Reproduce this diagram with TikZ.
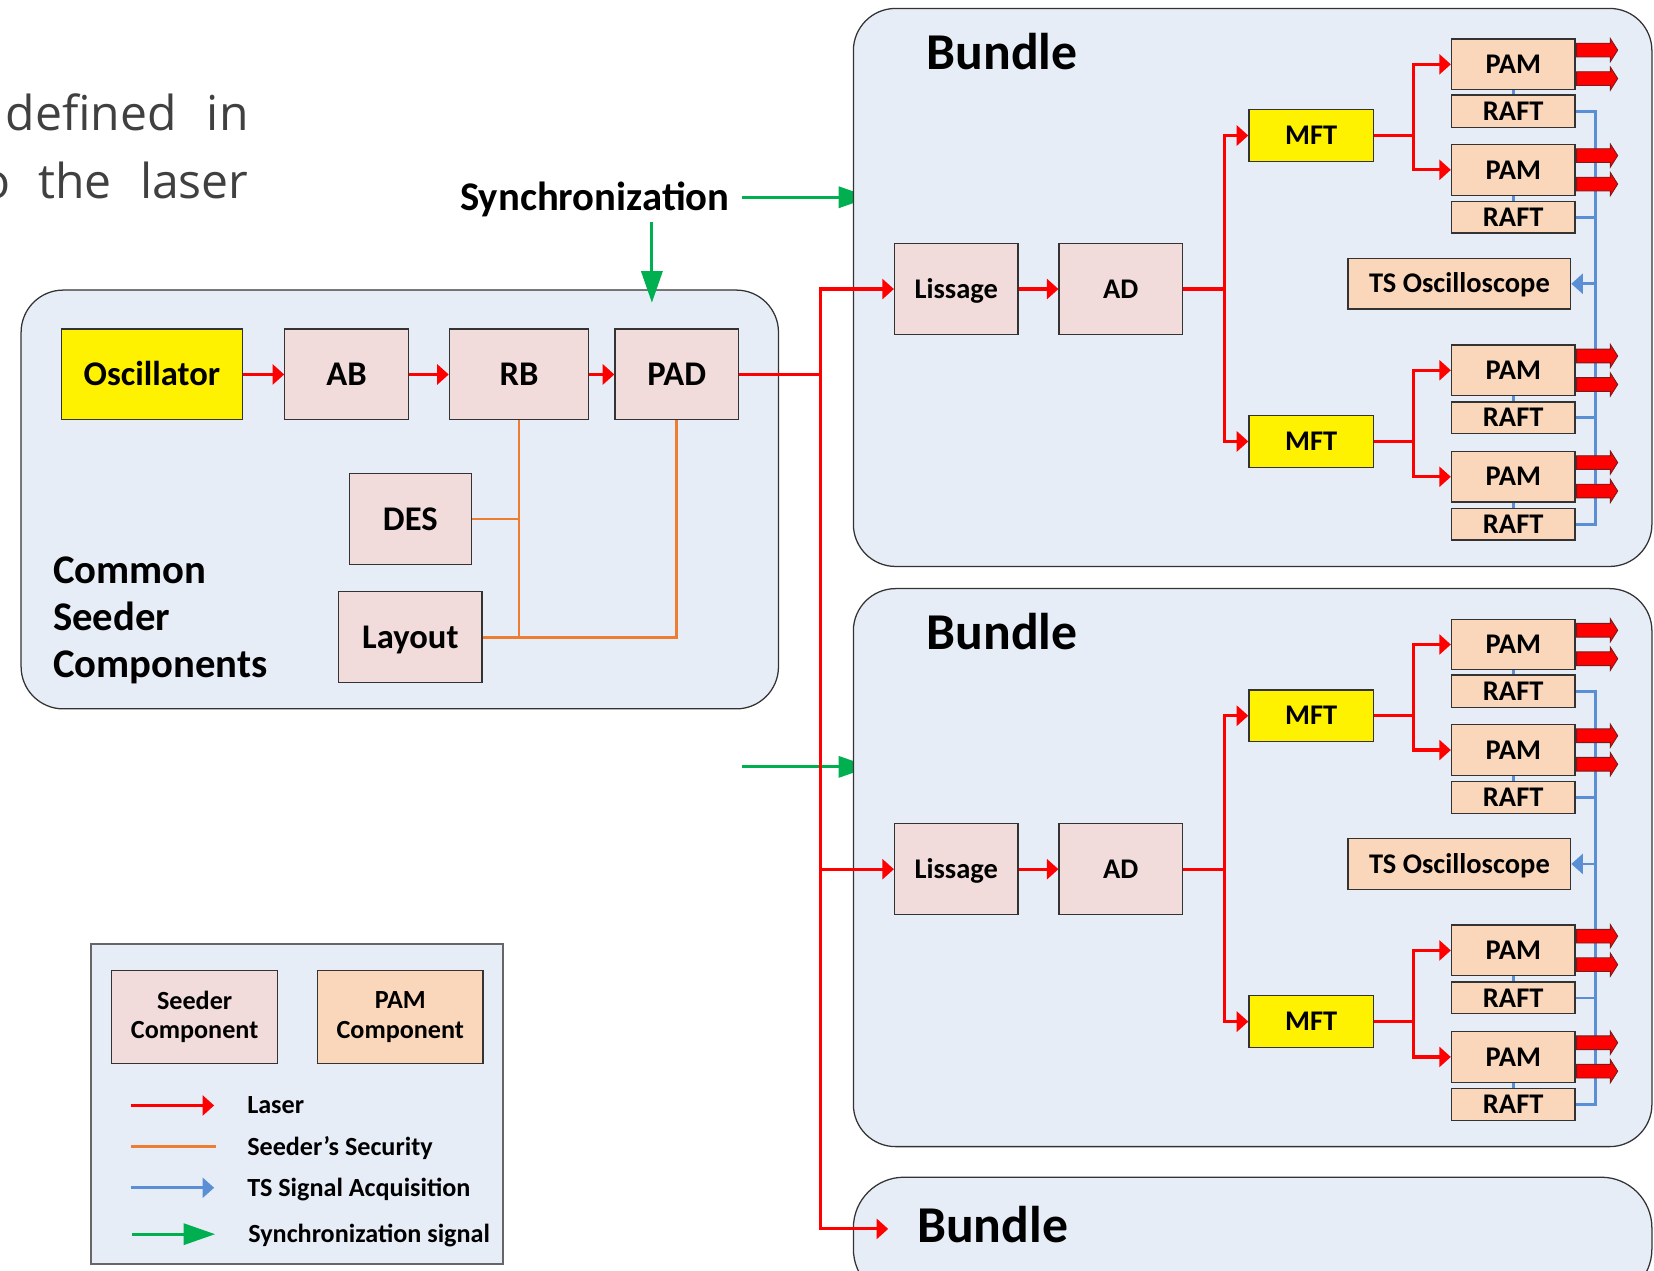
\documentclass[tikz,border=0pt]{standalone}
\usepackage{fontspec}
\setmainfont{Carlito}
\newfontfamily\osans{Open Sans}
\usetikzlibrary{arrows.meta}

\definecolor{panel}{HTML}{E7EDF7}
\definecolor{seedc}{HTML}{F2DCDB}
\definecolor{pamc}{HTML}{FAD7BA}
\definecolor{laserred}{HTML}{FF0000}
\definecolor{secor}{HTML}{ED7D31}
\definecolor{tsblue}{HTML}{5A8FD6}
\definecolor{syncg}{HTML}{00B050}
\definecolor{edge}{HTML}{333333}
\definecolor{prosec}{HTML}{404040}
\definecolor{beamedge}{HTML}{7A1A1A}

% font sizes
\newcommand\fA{\fontsize{16.4}{19}\selectfont\bfseries}
\newcommand\fB{\fontsize{13.5}{16}\selectfont\bfseries}
\newcommand\fC{\fontsize{19.3}{22.5}\selectfont\bfseries}
\newcommand\fD{\fontsize{24.5}{28}\selectfont\bfseries}
\newcommand\fL{\fontsize{12.4}{14.2}\selectfont\bfseries}

% box from its corners: name, x1, y1, x2, y2, style, text
\newcommand\blk[7]{\node[#6, minimum width={(#4-#2)*0.5pt}, minimum height={(#5-#3)*0.5pt}] (#1) at ({(#2+#4)/2},{(#3+#5)/2}) {#7};}

% thick output beam leaving a PAM box
\newcommand\beam[2]{\filldraw[beamst] ([yshift=#2]#1.east) ++(1,6.5) -- ++(32,0) -- ++(0,4.5) -- ++(7,-11) -- ++(-7,-11) -- ++(0,4.5) -- ++(-32,0) -- cycle;}

\begin{document}
\begin{tikzpicture}[x=0.5pt,y=-0.5pt,
  panelbox/.style={draw=edge, line width=0.6pt, fill=panel},
  boxbase/.style={draw=edge, line width=0.6pt, inner sep=0pt, text depth=0pt},
  seed/.style={boxbase, fill=seedc, font=\fA, text height=10.6pt},
  yel/.style={boxbase, fill=yellow, font=\fA, text height=10.6pt},
  seedS/.style={boxbase, fill=seedc, font=\fB, text height=8.7pt},
  yelS/.style={boxbase, fill=yellow, font=\fB, text height=8.7pt},
  pam/.style={boxbase, fill=pamc, font=\fB, text height=8.7pt},
  legseed/.style={draw=edge, line width=0.6pt, inner sep=0pt, fill=seedc, font=\fL, align=center},
  legpam/.style={draw=edge, line width=0.6pt, inner sep=0pt, fill=pamc, font=\fL, align=center},
  legtext/.style={font=\fL, inner sep=0pt, anchor=west, text height=8pt, text depth=0pt},
  prose/.style={font=\osans\fontsize{22.8}{27}\selectfont, text=prosec, inner sep=0pt},
  laser/.style={draw=laserred, line width=1.5pt, -{Triangle[length=5.5pt,width=9.5pt]}},
  sec/.style={draw=secor, line width=1.35pt},
  tsl/.style={draw=tsblue, line width=1.25pt},
  tsa/.style={draw=tsblue, line width=1.25pt, -{Triangle[length=5.5pt,width=9.5pt]}},
  sync/.style={draw=syncg, line width=1.5pt, -{Triangle[length=15pt,width=10pt]}},
  beamst/.style={fill=laserred, draw=beamedge, line width=0.4pt},
  ]
\useasboundingbox (0,0) rectangle (1568,1204);

% running text at the top left
\node[prose, anchor=base west] (w1) at (5,124) {defined};
\node[prose, anchor=base east] (w2) at (236,124) {in};
\node[prose, anchor=base east] (w3) at (10,188) {o};
\node[prose, anchor=base west] (w4) at (36,188) {the};
\node[prose, anchor=base east] (w5) at (236,188) {laser};

% common seeder panel
\draw[panelbox, rounded corners=20pt] (20,275) rectangle (738,672);
\blk{osc}{58}{312}{230}{398}{yel}{Oscillator}
\blk{ab}{270}{312}{387}{398}{seed}{AB}
\blk{rb}{426}{312}{558}{398}{seed}{RB}
\blk{pad}{583}{312}{700}{398}{seed}{PAD}
\blk{des}{331}{449}{447}{535}{seed}{DES}
\blk{lay}{321}{561}{457}{647}{seed}{Layout}
\node[font=\fC, align=left, anchor=north west, inner sep=0pt] (csc) at (50,527) {Common\\Seeder\\Components};

\draw[laser] (osc.east) -- (ab.west);
\draw[laser] (ab.east) -- (rb.west);
\draw[laser] (rb.east) -- (pad.west);

% seeder security
\draw[sec] (rb.south) -- (rb.south |- lay.east);
\draw[sec] (des.east) -- (des.east -| rb.south);
\draw[sec] (lay.east) -| (pad.south);

% synchronization
\node[font=\fC, anchor=east, inner sep=0pt, text height=12.4pt, text depth=0pt] (sync) at (692,187) {Synchronization};
\coordinate (syncR) at (825,187);
\coordinate (syncU) at (618,210);
\coordinate (syncD) at (618,287);
\draw[sync] ([xshift=5.5pt]sync.east) -- (syncR);
\draw[sync] (syncU) -- (syncD);
\coordinate (sync2a) at (703,727);
\coordinate (sync2b) at (825,727);
\draw[sync] (sync2a) -- (sync2b);

% bundles
\foreach \bi/\yo in {1/0,2/550}{
\begin{scope}[shift={(0,\yo)}]
  \draw[panelbox, rounded corners=20pt] (809,8) rectangle (1566,537);
  \node[font=\fD, inner sep=0pt, text height=15.8pt, text depth=0pt] (bt\bi) at (950,50) {Bundle};
  \blk{lis\bi}{848}{231}{965}{317}{seedS}{Lissage}
  \blk{ad\bi}{1004}{231}{1121}{317}{seedS}{AD}
  \blk{mfa\bi}{1184}{104}{1302}{153}{yelS}{MFT}
  \blk{mfb\bi}{1184}{394}{1302}{443}{yelS}{MFT}
  \blk{pa\bi}{1376}{37}{1493}{85}{pam}{PAM}
  \blk{ra\bi}{1376}{90}{1493}{121}{pam}{RAFT}
  \blk{pb\bi}{1376}{137}{1493}{185}{pam}{PAM}
  \blk{rb\bi}{1376}{191}{1493}{221}{pam}{RAFT}
  \blk{tso\bi}{1278}{245}{1489}{293}{pam}{TS Oscilloscope}
  \blk{pc\bi}{1376}{327}{1493}{375}{pam}{PAM}
  \blk{rc\bi}{1376}{381}{1493}{411}{pam}{RAFT}
  \blk{pd\bi}{1376}{428}{1493}{476}{pam}{PAM}
  \blk{rd\bi}{1376}{482}{1493}{512}{pam}{RAFT}
  % laser path inside the bundle
  \draw[laser] (lis\bi.east) -- (ad\bi.west);
  \path (ad\bi.east) ++(39,0) coordinate (aj\bi);
  \draw[laser] (ad\bi.east) -- (aj\bi) |- (mfa\bi.west);
  \draw[laser] (aj\bi) |- (mfb\bi.west);
  \path (mfa\bi.east) ++(37,0) coordinate (mja\bi);
  \path (mfb\bi.east) ++(37,0) coordinate (mjb\bi);
  \draw[laser] (mfa\bi.east) -- (mja\bi) |- (pa\bi.west);
  \draw[laser] (mja\bi) |- (pb\bi.west);
  \draw[laser] (mfb\bi.east) -- (mjb\bi) |- (pc\bi.west);
  \draw[laser] (mjb\bi) |- (pd\bi.west);
  % TS signal acquisition
  \path (ra\bi.east) ++(19,0) coordinate (tt\bi);
  \path (rd\bi.east) ++(19,0) coordinate (tb\bi);
  \draw[tsl] (ra\bi.east) -- (tt\bi) -- (tb\bi) -- (rd\bi.east);
  \draw[tsl] (rb\bi.east) -- (rb\bi.east -| tt\bi);
  \draw[tsl] (rc\bi.east) -- (rc\bi.east -| tt\bi);
  \draw[tsa] (tt\bi |- tso\bi.east) -- (tso\bi.east);
  \foreach \p in {a,b,c,d}{
    \draw[tsl] (p\p\bi.south) -- (r\p\bi.north);
    \beam{p\p\bi}{6.75pt}
    \beam{p\p\bi}{-6.75pt}
  }
\end{scope}
}

% third bundle
\draw[panelbox, rounded corners=24pt] (809,1116) rectangle (1566,1232);
\node[font=\fD, inner sep=0pt, text height=15.8pt, text depth=0pt] (bt3) at (941,1162) {Bundle};

% laser distribution bus
\coordinate (busA) at (778,274);
\coordinate (busZ) at (778,1165);
\coordinate (b3in) at (842,1165);
\draw[laser] (pad.east) -| (busA |- lis1.west) -- (lis1.west);
\draw[laser] (pad.east) -| (busZ) -- (b3in);
\draw[laser] (busA |- lis2.west) -- (lis2.west);

% legend
\draw[draw=black!60, line width=0.9pt, fill=panel] (86,895) rectangle (477,1198);
\blk{lgs}{106}{920}{263}{1008}{legseed}{Seeder\\Component}
\blk{lgp}{301}{920}{458}{1008}{legpam}{PAM\\Component}
\coordinate (l1a) at (124,1048); \coordinate (l1b) at (203,1048);
\coordinate (l2a) at (124,1087); \coordinate (l2b) at (205,1087);
\coordinate (l3a) at (124,1126); \coordinate (l3b) at (203,1126);
\coordinate (l4a) at (125,1170); \coordinate (l4b) at (204,1170);
\draw[laser] (l1a) -- (l1b);
\draw[sec] (l2a) -- (l2b);
\draw[tsa] (l3a) -- (l3b);
\draw[sync] (l4a) -- (l4b);
\node[legtext] (t1) at (234,1048) {Laser};
\node[legtext] (t2) at (234,1087) {Seeder’s Security};
\node[legtext] (t3) at (234,1126) {TS Signal Acquisition};
\node[legtext] (t4) at (235,1170) {Synchronization signal};
\end{tikzpicture}
\end{document}
